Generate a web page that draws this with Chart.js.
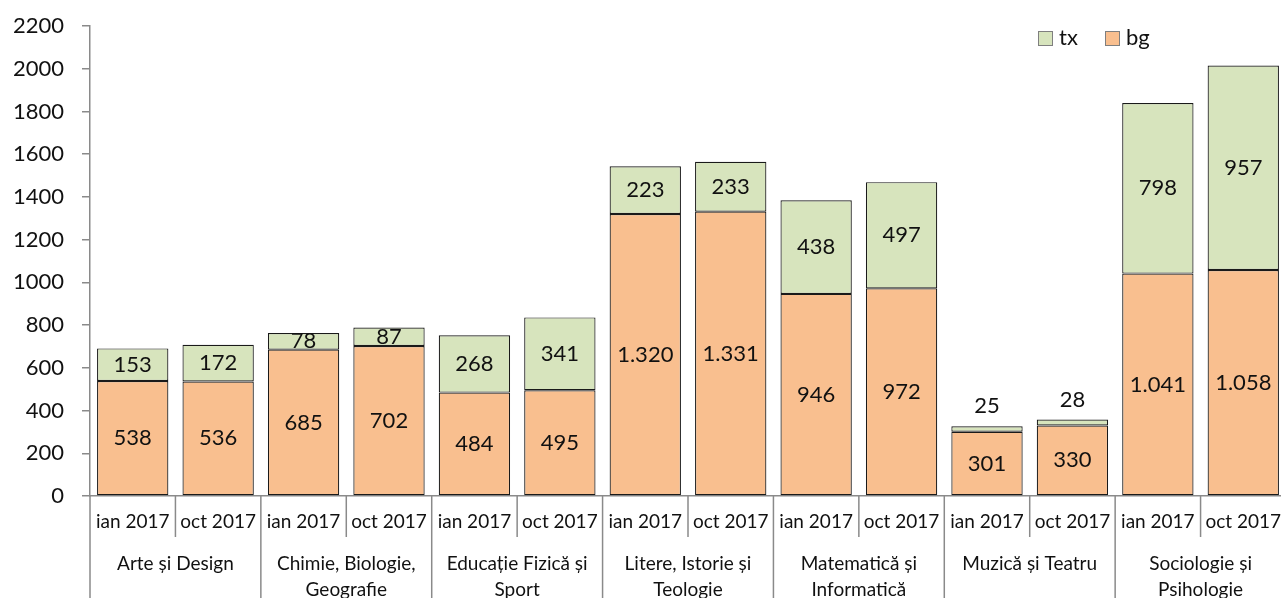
<!DOCTYPE html>
<html>
<head>
<meta charset="utf-8">
<script src="https://cdn.jsdelivr.net/npm/chart.js@4"></script>
<style>
  html, body { margin: 0; padding: 0; background: #fff; overflow: hidden; }
  #wrap { width: 1286px; height: 598px; }
</style>
</head>
<body>
<div id="wrap"><canvas id="myChart"></canvas></div>
<script>
// date
const months = ['ian 2017', 'oct 2017', 'ian 2017', 'oct 2017', 'ian 2017', 'oct 2017', 'ian 2017',
  'oct 2017', 'ian 2017', 'oct 2017', 'ian 2017', 'oct 2017', 'ian 2017', 'oct 2017'];
const groups = [
  ['Arte și Design'],
  ['Chimie, Biologie,', 'Geografie'],
  ['Educație Fizică și', 'Sport'],
  ['Litere, Istorie și', 'Teologie'],
  ['Matematică și', 'Informatică'],
  ['Muzică și Teatru'],
  ['Sociologie și', 'Psihologie']
];
const bgValues = [538, 536, 685, 702, 484, 495, 1320, 1331, 946, 972, 301, 330, 1041, 1058];
const txValues = [153, 172, 78, 87, 268, 341, 223, 233, 438, 497, 25, 28, 798, 957];
const yTicks = [0, 200, 400, 600, 800, 1000, 1200, 1400, 1600, 1800, 2000, 2200];

const FONT = 'Lato, "Open Sans", sans-serif';
const AXIS = '#8a8a8a';
const BG_COL = '#F9BF8F';
const TX_COL = '#D7E4BD';

function fmt(n) {
  return String(n).replace(/\B(?=(\d{3})+(?!\d))/g, '.');
}

// etichete pe bare
const labelsPlugin = {
  id: 'barLabels',
  afterDatasetsDraw(chart) {
    const ctx = chart.ctx;
    ctx.save();
    ctx.font = '22px ' + FONT;
    ctx.fillStyle = '#111';
    ctx.textAlign = 'center';
    ctx.textBaseline = 'middle';
    chart.data.datasets.forEach((ds, di) => {
      const meta = chart.getDatasetMeta(di);
      meta.data.forEach((bar, i) => {
        const v = ds.data[i];
        let y = (bar.y + bar.base) / 2;
        if (v < 50) y = bar.y - 20;
        ctx.fillText(fmt(v), bar.x, y);
      });
    });
    ctx.restore();
  }
};

// axa x pe doua nivele + legenda
const axisPlugin = {
  id: 'groupAxis',
  afterDraw(chart) {
    const ctx = chart.ctx;
    const x = chart.scales.x;
    const bottom = x.top;
    const n = months.length;
    const bounds = [];
    for (let k = 0; k <= n; k++) {
      if (k === 0) bounds.push(x.left);
      else if (k === n) bounds.push(x.right);
      else bounds.push((x.getPixelForValue(k - 1) + x.getPixelForValue(k)) / 2);
    }
    ctx.save();
    ctx.strokeStyle = AXIS;
    ctx.lineWidth = 1.5;
    bounds.forEach((bx, k) => {
      ctx.beginPath();
      ctx.moveTo(bx, bottom);
      ctx.lineTo(bx, k % 2 === 0 ? chart.height : bottom + 41);
      ctx.stroke();
    });
    ctx.font = '19px ' + FONT;
    ctx.fillStyle = '#111';
    ctx.textAlign = 'center';
    ctx.textBaseline = 'middle';
    groups.forEach((lines, g) => {
      const cx = (x.getPixelForValue(2 * g) + x.getPixelForValue(2 * g + 1)) / 2;
      lines.forEach((t, li) => ctx.fillText(t, cx, bottom + 68 + li * 26));
    });

    // legenda
    const items = [['tx', TX_COL, 1038], ['bg', BG_COL, 1105]];
    ctx.font = '22px ' + FONT;
    ctx.textAlign = 'left';
    items.forEach(([t, c, lx]) => {
      ctx.fillStyle = c;
      ctx.fillRect(lx, 31, 14, 14);
      ctx.strokeStyle = '#7f7f7f';
      ctx.lineWidth = 1;
      ctx.strokeRect(lx + 0.5, 31.5, 14, 14);
      ctx.fillStyle = '#111';
      ctx.fillText(t, lx + 21, 38);
    });
    ctx.restore();
  }
};

const data = {
  labels: months,
  datasets: [
    {
      label: 'bg',
      data: bgValues,
      backgroundColor: BG_COL,
      borderColor: '#1a1a1a',
      borderWidth: 1.2,
      borderSkipped: false,
      barPercentage: 0.835,
      categoryPercentage: 1
    },
    {
      label: 'tx',
      data: txValues,
      backgroundColor: TX_COL,
      borderColor: '#1a1a1a',
      borderWidth: 1.2,
      borderSkipped: false,
      barPercentage: 0.835,
      categoryPercentage: 1
    }
  ]
};

const config = {
  type: 'bar',
  data: data,
  options: {
    responsive: true,
    maintainAspectRatio: false,
    animation: false,
    layout: { padding: { top: 26, right: 0, left: 0, bottom: 0 } },
    plugins: {
      legend: { display: false },
      tooltip: { enabled: false }
    },
    scales: {
      x: {
        stacked: true,
        offset: true,
        grid: { display: false, drawTicks: false },
        border: { color: AXIS, width: 1.5 },
        ticks: {
          color: '#111',
          font: { family: FONT, size: 19 },
          padding: 14,
          maxRotation: 0,
          autoSkip: false
        },
        afterFit(scale) {
          scale.height = 102;
          scale.paddingLeft = 0;
          scale.paddingRight = 0;
        }
      },
      y: {
        stacked: true,
        min: 0,
        max: 2200,
        afterBuildTicks(scale) { scale.ticks = yTicks.map(v => ({ value: v })); },
        grid: { drawOnChartArea: false, drawTicks: true, tickLength: 8, color: AXIS, lineWidth: 1.5 },
        border: { color: AXIS, width: 1.5 },
        ticks: {
          color: '#111',
          font: { family: FONT, size: 22 },
          padding: 18,
          callback: v => String(v)
        },
        afterFit(scale) {
          scale.width = 90;
          scale.paddingTop = 0;
          scale.paddingBottom = 0;
        }
      }
    }
  },
  plugins: [labelsPlugin, axisPlugin]
};

new Chart(document.getElementById('myChart').getContext('2d'), config);
</script>
</body>
</html>
